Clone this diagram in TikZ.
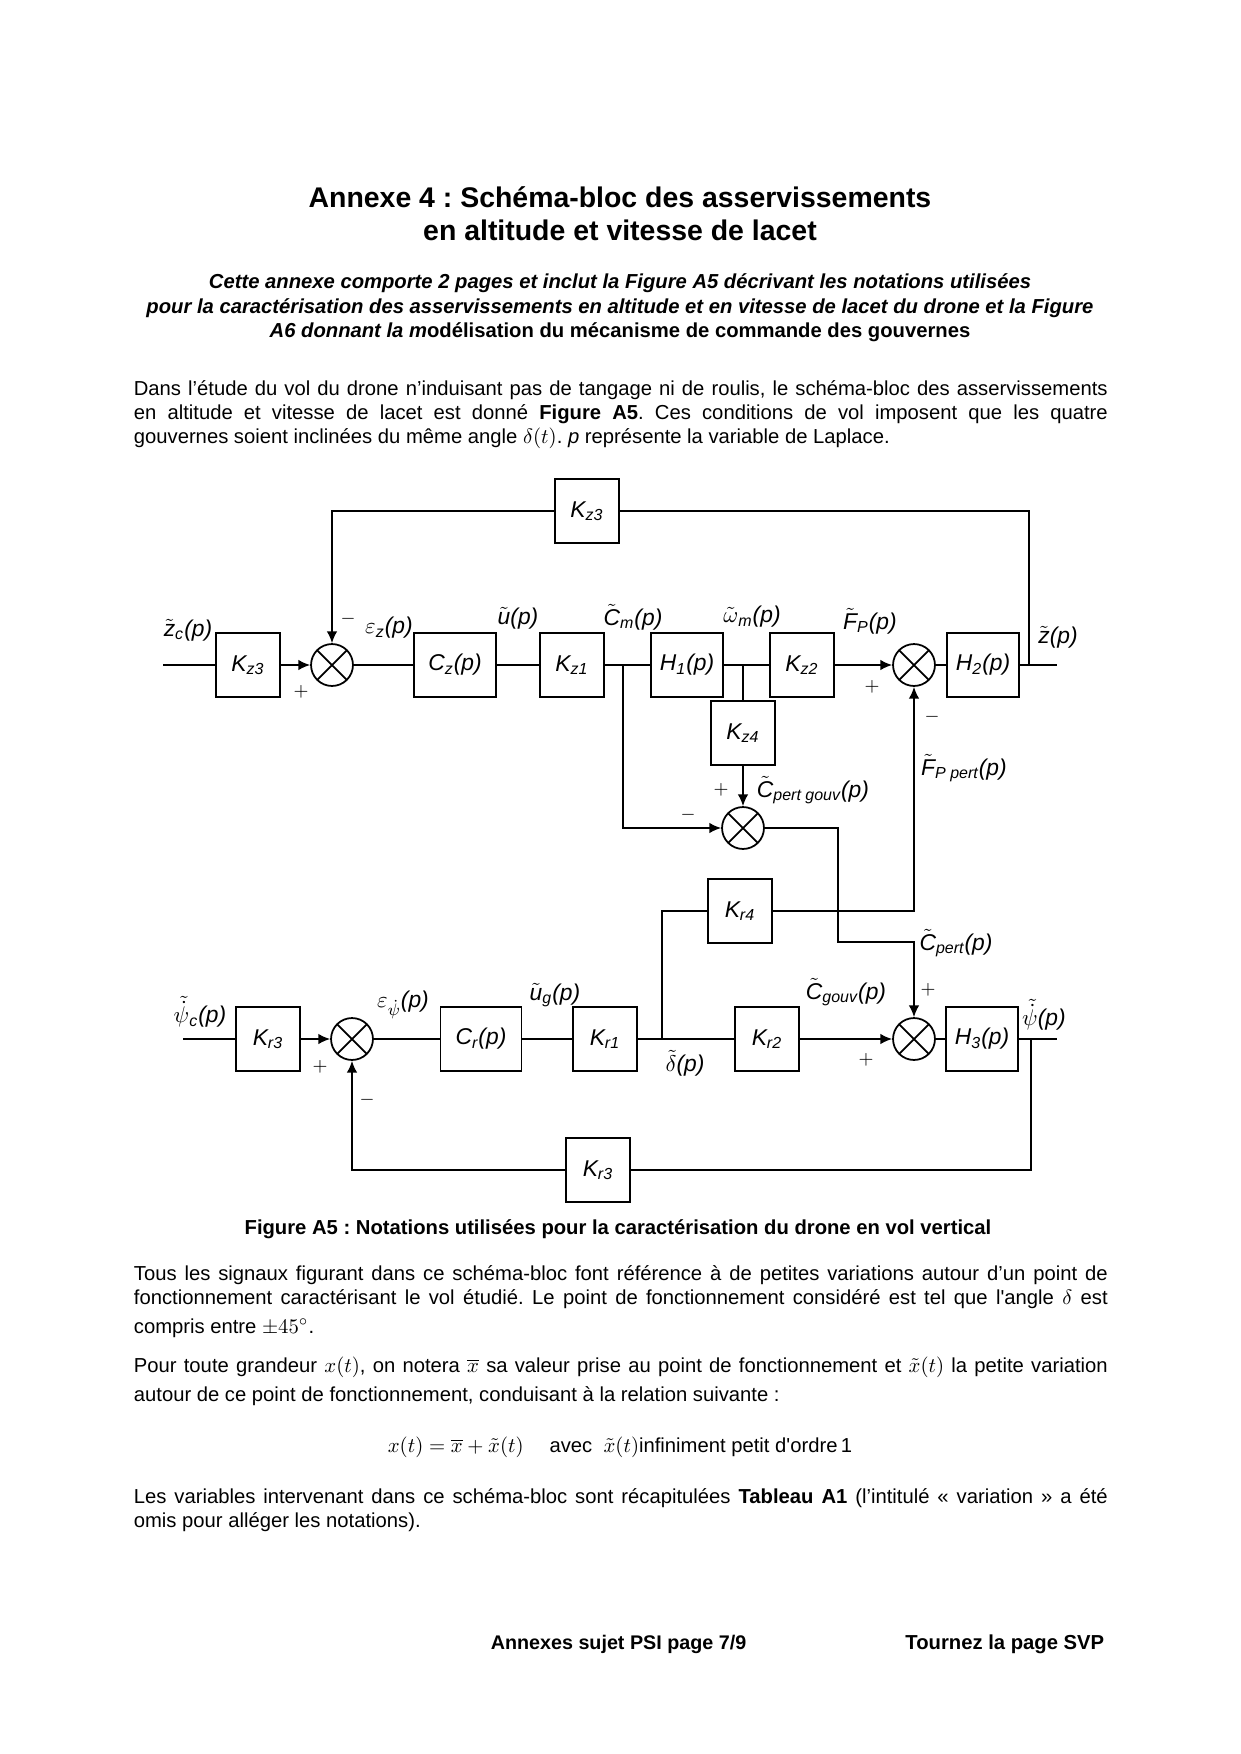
\documentclass[tikz,border=0pt]{standalone}
\usepackage{fontspec}
\setmainfont{Liberation Sans}
\usepackage{amsmath}
\usetikzlibrary{arrows.meta,positioning,calc}
\frenchspacing
\tikzset{
  wire/.style={>={Latex[length=2mm,width=1.8mm]},line width=0.85pt},
  blk/.style={draw,line width=0.85pt,minimum width=10.9mm,minimum height=10.9mm,
    inner sep=0pt,font=\itshape\fontsize{11}{13}\selectfont},
  addop/.style={draw,circle,line width=0.85pt,minimum size=7.1mm,inner sep=0pt,
    path picture={\draw[line width=0.85pt]
      (path picture bounding box.north west)--(path picture bounding box.south east)
      (path picture bounding box.north east)--(path picture bounding box.south west);}},
  sig/.style={inner sep=0pt,font=\itshape\fontsize{11}{13}\selectfont},
  sgn/.style={inner sep=0pt,font=\fontsize{9}{10}\selectfont},
  para/.style={anchor=north west,inner sep=0pt,text width=164.9mm,align=justify,
    font=\fontsize{9.75}{11.5}\selectfont},
  line/.style={inner sep=0pt,font=\bfseries\fontsize{9.75}{11.5}\selectfont},
}
\newcommand{\tld}[1]{\ensuremath{\tilde{\mbox{#1}}}}

\begin{document}
\begin{tikzpicture}[wire,x=0.16933mm,y=-0.16933mm]
\fill[white] (0,0) rectangle (1240,1754);
\node[anchor=north,inner sep=0pt,align=center,font=\bfseries\fontsize{13.7}{16}\selectfont] (title) at (620,186)
  {Annexe 4 : Schéma-bloc des asservissements\\en altitude et vitesse de lacet};
\node[anchor=north,inner sep=0pt,align=center,font=\bfseries\itshape\fontsize{9.75}{11.7}\selectfont] (intro) at (620,273)
  {Cette annexe comporte 2 pages et inclut la Figure A5 décrivant les notations utilisées\\
   pour la caractérisation des asservissements en altitude et en vitesse de lacet du drone et la Figure\\
   A6 donnant la m{\upshape odélisation du mécanisme de commande des gouvernes}};
\node[para] (par1) at (133,380)
  {Dans l’étude du vol du drone n’induisant pas de tangage ni de roulis, le schéma-bloc des asservissements\linebreak
   en altitude et vitesse de lacet est donné \textbf{Figure A5}. Ces conditions de vol imposent que les quatre\linebreak
   gouvernes soient inclinées du même angle $\delta(t)$. \textit{p} représente la variable de Laplace.};

% altitude loop
\coordinate (in1) at (163,665);
\node[blk] (kz3a) at (248,665) {K\textsubscript{z3}};
\node[addop] (s1) at (332,665) {};
\node[blk,minimum width=13.9mm] (cz) at (455,665) {C\textsubscript{z}(p)};
\node[blk] (kz1) at (572,665) {K\textsubscript{z1}};
\coordinate (j1) at (623,665);
\node[blk,minimum width=12.2mm] (h1) at (687,665) {H\textsubscript{1}(p)};
\coordinate (j2) at (743,665);
\node[blk] (kz2) at (802,665) {K\textsubscript{z2}};
\node[addop] (s2) at (914,665) {};
\node[blk,minimum width=12.2mm] (h2) at (983,665) {H\textsubscript{2}(p)};
\coordinate (j3) at (1029,665);
\coordinate (out1) at (1057,665);
\node[blk] (kz3b) at (587,511) {K\textsubscript{z3}};
\node[blk] (kz4) at (743,733) {K\textsubscript{z4}};
\node[addop] (s3) at (743,828) {};
\coordinate (c1) at (838,942);
\node[blk] (kr4) at (740,911) {K\textsubscript{r4}};

% yaw loop
\coordinate (in2) at (183,1039);
\node[blk] (kr3a) at (268,1039) {K\textsubscript{r3}};
\node[addop] (s5) at (352,1039) {};
\node[blk,minimum width=13.7mm] (cr) at (481,1039) {C\textsubscript{r}(p)};
\node[blk] (kr1) at (605,1039) {K\textsubscript{r1}};
\coordinate (j4) at (662,1039);
\node[blk] (kr2) at (767,1039) {K\textsubscript{r2}};
\node[addop] (s4) at (914,1039) {};
\node[blk,minimum width=12.2mm] (h3) at (982,1039) {H\textsubscript{3}(p)};
\coordinate (j5) at (1031,1039);
\coordinate (out2) at (1057,1039);
\node[blk] (kr3b) at (598,1170) {K\textsubscript{r3}};

\draw (in1) -- (kz3a);
\draw[->] (kz3a) -- (s1);
\draw (s1) -- (cz);
\draw (cz) -- (kz1);
\draw (kz1) -- (h1);
\draw (h1) -- (kz2);
\draw[->] (kz2) -- (s2);
\draw (s2) -- (h2);
\draw (h2) -- (out1);
\draw (j3) |- (kz3b);
\draw[->] (kz3b) -| (s1);
\draw (j2) -- (kz4);
\draw[->] (kz4) -- (s3);
\draw[->] (j1) |- (s3);
\draw[->] (s3) -| (c1) -| (s4);
\draw[->] (kr4) -| (s2);
\draw (j4) |- (kr4);
\draw (in2) -- (kr3a);
\draw[->] (kr3a) -- (s5);
\draw (s5) -- (cr);
\draw (cr) -- (kr1);
\draw (kr1) -- (kr2);
\draw[->] (kr2) -- (s4);
\draw (s4) -- (h3);
\draw (h3) -- (out2);
\draw (j5) |- (kr3b);
\draw[->] (kr3b) -| (s5);

\node[sig] (lzc) at (188,630) {\tld{z}\textsubscript{c}(p)};
\node[sig] (lez) at (389,628) {$\varepsilon$\textsubscript{z}(p)};
\node[sig] (lu) at (518,618) {\tld{u}(p)};
\node[sig] (lcm) at (633,617) {\tld{C}\textsubscript{m}(p)};
\node[sig] (lwm) at (752,617) {$\tilde{\omega}$\textsubscript{m}(p)};
\node[sig] (lfp) at (870,621) {\tld{F}\textsubscript{P}(p)};
\node[sig] (lz) at (1058,637) {\tld{z}(p)};
\node[sig] (lcpg) at (813,790) {\tld{C}\textsubscript{pert gouv}(p)};
\node[sig] (lfpp) at (964,768) {\tld{F}\textsubscript{P pert}(p)};
\node[sig] (lcp) at (956,943) {\tld{C}\textsubscript{pert}(p)};
\node[sig] (lcg) at (846,992) {\tld{C}\textsubscript{gouv}(p)};
\node[sig] (lpsi) at (1044,1015) {$\tilde{\dot{\psi}}$(p)};
\node[sig] (ld) at (685,1063) {$\tilde{\delta}$(p)};
\node[sig] (lug) at (555,995) {\tld{u}\textsubscript{g}(p)};
\node[sig] (lepsi) at (403,1005) {$\varepsilon_{\dot{\psi}}$(p)};
\node[sig] (lpsic) at (200,1012) {$\tilde{\dot{\psi}}$\textsubscript{c}(p)};

\node[sgn] at (348,619) {$-$};
\node[sgn] at (301,692) {$+$};
\node[sgn] at (872,687) {$+$};
\node[sgn] at (932,717) {$-$};
\node[sgn] at (721,790) {$+$};
\node[sgn] at (688,815) {$-$};
\node[sgn] at (928,990) {$+$};
\node[sgn] at (866,1060) {$+$};
\node[sgn] at (320,1067) {$+$};
\node[sgn] at (367,1100) {$-$};

\node[line,anchor=base] (cap) at (618,1234) {Figure A5 : Notations utilisées pour la caractérisation du drone en vol vertical};
\node[para] (par2) at (133,1265)
  {Tous les signaux figurant dans ce schéma-bloc font référence à de petites variations autour d’un point de\linebreak
   fonctionnement caractérisant le vol étudié. Le point de fonctionnement considéré est tel que l\textquotesingle angle $\delta$ est\linebreak
   \rule{0pt}{10.8pt}compris entre $\pm45^\circ$.};
\node[para,font=\fontsize{9.75}{14}\selectfont] (par3) at (133,1356)
  {Pour toute grandeur $x(t)$, on notera $\overline{x}$ sa valeur prise au point de fonctionnement et $\tilde{x}(t)$ la petite variation\linebreak
   autour de ce point de fonctionnement, conduisant à la relation suivante :};
\node[anchor=base,inner sep=0pt,font=\fontsize{9.75}{11.5}\selectfont] (eq) at (620,1452)
  {$x(t)=\overline{x}+\tilde{x}(t)$\quad\ avec\ \ $\tilde{x}(t)$infiniment petit d\textquotesingle ordre\,1};
\node[para] (par4) at (133,1488)
  {Les variables intervenant dans ce schéma-bloc sont récapitulées \textbf{Tableau A1} (l’intitulé « variation » a été\linebreak
   omis pour alléger les notations).};
\node[line,anchor=base west,font=\bfseries\fontsize{9.5}{11.5}\selectfont] (foot1) at (490,1649) {Annexes sujet PSI page 7/9};
\node[line,anchor=base east] (foot2) at (1105,1649) {Tournez la page SVP};
\end{tikzpicture}
\end{document}
